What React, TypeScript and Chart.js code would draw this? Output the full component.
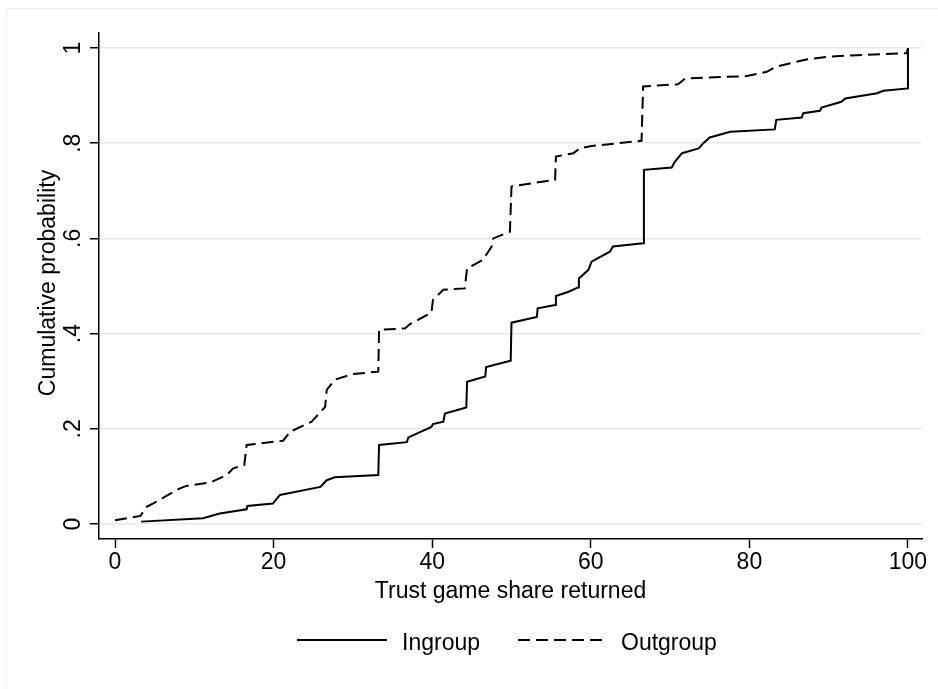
import React, { useEffect, useRef } from "react";
import { Chart, registerables } from "chart.js";

Chart.register(...registerables);

const FONT = '"Liberation Sans", Arial, Helvetica, sans-serif';

// Ingroup empirical CDF (share returned, cumulative probability)
const ingroupX = [3.3, 11.1, 13.2, 16.6, 16.7, 19.9, 20.8, 25.9, 26.7, 27.7, 33.2, 33.3, 36.8, 37, 39.9, 40.1, 41.4, 41.6, 44.3, 44.4, 46.7, 46.8, 49.9, 50, 53.2, 53.3, 55.5, 55.6, 57.2, 58.4, 58.5, 59.7, 60.1, 62.4, 62.8, 66.6, 66.7, 70.2, 70.6, 71.5, 73.6, 74.2, 75, 77.6, 83.2, 83.4, 86.6, 86.8, 88.9, 89.1, 91.6, 92.1, 96.1, 96.9, 100, 100];
const ingroupY = [0.005, 0.012, 0.022, 0.031, 0.038, 0.043, 0.061, 0.078, 0.092, 0.098, 0.103, 0.166, 0.172, 0.182, 0.204, 0.21, 0.215, 0.232, 0.245, 0.299, 0.31, 0.33, 0.343, 0.423, 0.435, 0.453, 0.46, 0.479, 0.488, 0.497, 0.516, 0.534, 0.551, 0.572, 0.583, 0.59, 0.744, 0.749, 0.761, 0.779, 0.789, 0.8, 0.812, 0.824, 0.829, 0.849, 0.854, 0.863, 0.868, 0.875, 0.887, 0.894, 0.905, 0.91, 0.915, 1.0];

// Outgroup empirical CDF
const outgroupX = [0, 3.2, 4, 5, 6.7, 8.2, 9, 12, 14.1, 14.9, 16.3, 16.6, 21.2, 22.1, 24.8, 26.5, 26.7, 27.7, 30, 33.2, 33.3, 36.6, 37.2, 39.9, 40.1, 41.4, 44.1, 44.4, 46.4, 47.5, 47.7, 49.8, 50, 52.7, 55.5, 55.6, 57.8, 58.6, 60.1, 66.4, 66.6, 71, 71.9, 79.7, 82.2, 83.4, 87.2, 90.2, 93.5, 99.8, 100];
const outgroupY = [0.008, 0.017, 0.036, 0.045, 0.061, 0.075, 0.08, 0.087, 0.103, 0.117, 0.124, 0.166, 0.175, 0.194, 0.215, 0.246, 0.282, 0.303, 0.315, 0.32, 0.408, 0.411, 0.42, 0.444, 0.471, 0.492, 0.495, 0.537, 0.555, 0.583, 0.6, 0.614, 0.709, 0.716, 0.723, 0.772, 0.779, 0.789, 0.794, 0.805, 0.919, 0.924, 0.936, 0.941, 0.95, 0.961, 0.976, 0.982, 0.985, 0.989, 0.999];

const seriesNames = ["Ingroup", "Outgroup"];
const xTicks = [0, 20, 40, 60, 80, 100];
const xTickLabels = ["0", "20", "40", "60", "80", "100"];
const yTicks = [0, 0.2, 0.4, 0.6, 0.8, 1];
const yTickLabels = ["0", ".2", ".4", ".6", ".8", "1"];
const xTitle = "Trust game share returned";
const yTitle = "Cumulative probability";

const toPoints = (xs: number[], ys: number[]) => xs.map((x, i) => ({ x, y: ys[i] }));

const textPlugin = {
  id: "stataText",
  afterDraw(chart: any) {
    const ctx = chart.ctx as CanvasRenderingContext2D;
    const xs = chart.scales.x;
    const ys = chart.scales.y;
    const area = chart.chartArea;
    ctx.save();
    ctx.fillStyle = "#000";
    ctx.font = `23px ${FONT}`;
    ctx.textBaseline = "alphabetic";

    // x tick labels
    ctx.textAlign = "center";
    xTicks.forEach((v, i) => ctx.fillText(xTickLabels[i], xs.getPixelForValue(v), 569));

    // y tick labels (rotated)
    yTicks.forEach((v, i) => {
      ctx.save();
      ctx.translate(80, ys.getPixelForValue(v));
      ctx.rotate(-Math.PI / 2);
      ctx.textAlign = "center";
      ctx.fillText(yTickLabels[i], 0, 0);
      ctx.restore();
    });

    // y title
    ctx.save();
    ctx.translate(55, 283);
    ctx.rotate(-Math.PI / 2);
    ctx.textAlign = "center";
    ctx.fillText(yTitle, 0, 0);
    ctx.restore();

    // x title
    ctx.textAlign = "center";
    ctx.fillText(xTitle, (area.left + area.right) / 2, 598);

    // legend
    ctx.strokeStyle = "#000";
    ctx.lineWidth = 2;
    ctx.beginPath();
    ctx.moveTo(297, 640);
    ctx.lineTo(387, 640);
    ctx.stroke();
    ctx.textAlign = "left";
    ctx.fillText(seriesNames[0], 402, 650);
    ctx.setLineDash([12, 6]);
    ctx.beginPath();
    ctx.moveTo(518, 640);
    ctx.lineTo(608, 640);
    ctx.stroke();
    ctx.setLineDash([]);
    ctx.fillText(seriesNames[1], 621, 650);
    ctx.restore();
  },
};

export default function App() {
  const ref = useRef<HTMLCanvasElement | null>(null);

  useEffect(() => {
    if (!ref.current) return;
    const chart = new Chart(ref.current, {
      type: "line",
      data: {
        datasets: [
          {
            label: seriesNames[0],
            data: toPoints(ingroupX, ingroupY),
            borderColor: "#000",
            borderWidth: 2,
            pointRadius: 0,
            tension: 0,
            fill: false,
          },
          {
            label: seriesNames[1],
            data: toPoints(outgroupX, outgroupY),
            borderColor: "#000",
            borderWidth: 2,
            borderDash: [12, 6],
            pointRadius: 0,
            tension: 0,
            fill: false,
          },
        ],
      },
      options: {
        animation: false,
        responsive: false,
        devicePixelRatio: 1,
        layout: { padding: { left: 0, top: 33, right: 16, bottom: 0 } },
        plugins: { legend: { display: false }, tooltip: { enabled: false } },
        scales: {
          x: {
            type: "linear",
            min: -2.02,
            max: 101.77,
            afterFit: (s: any) => {
              s.height = 150;
            },
            afterBuildTicks: (s: any) => {
              s.ticks = xTicks.map((v) => ({ value: v }));
            },
            ticks: { display: false },
            grid: {
              display: true,
              drawOnChartArea: false,
              drawTicks: true,
              tickLength: 9,
              tickColor: "#000",
              tickWidth: 1.5,
            },
            border: { display: true, color: "#000", width: 1.5 },
          },
          y: {
            type: "linear",
            min: -0.0315,
            max: 1.0315,
            afterFit: (s: any) => {
              s.width = 99;
            },
            afterBuildTicks: (s: any) => {
              s.ticks = yTicks.map((v) => ({ value: v }));
            },
            ticks: { display: false },
            grid: {
              display: true,
              drawOnChartArea: true,
              drawTicks: true,
              tickLength: 9,
              color: "#e8e8e8",
              lineWidth: 1.5,
              tickColor: "#000",
              tickWidth: 1.5,
            },
            border: { display: true, color: "#000", width: 1.5 },
          },
        },
      },
      plugins: [textPlugin],
    });
    return () => chart.destroy();
  }, []);

  return (
    <div style={{ position: "absolute", left: 0, top: 0, width: 938, height: 689, overflow: "hidden", background: "#fff" }}>
      <div
        style={{
          position: "absolute",
          left: 6,
          top: 8,
          width: 931,
          height: 680,
          borderLeft: "1px solid #eeeeee",
          borderTop: "1px solid #eeeeee",
        }}
      />
      <canvas ref={ref} width={938} height={689} style={{ position: "absolute", left: 0, top: 0, width: 938, height: 689 }} />
    </div>
  );
}
